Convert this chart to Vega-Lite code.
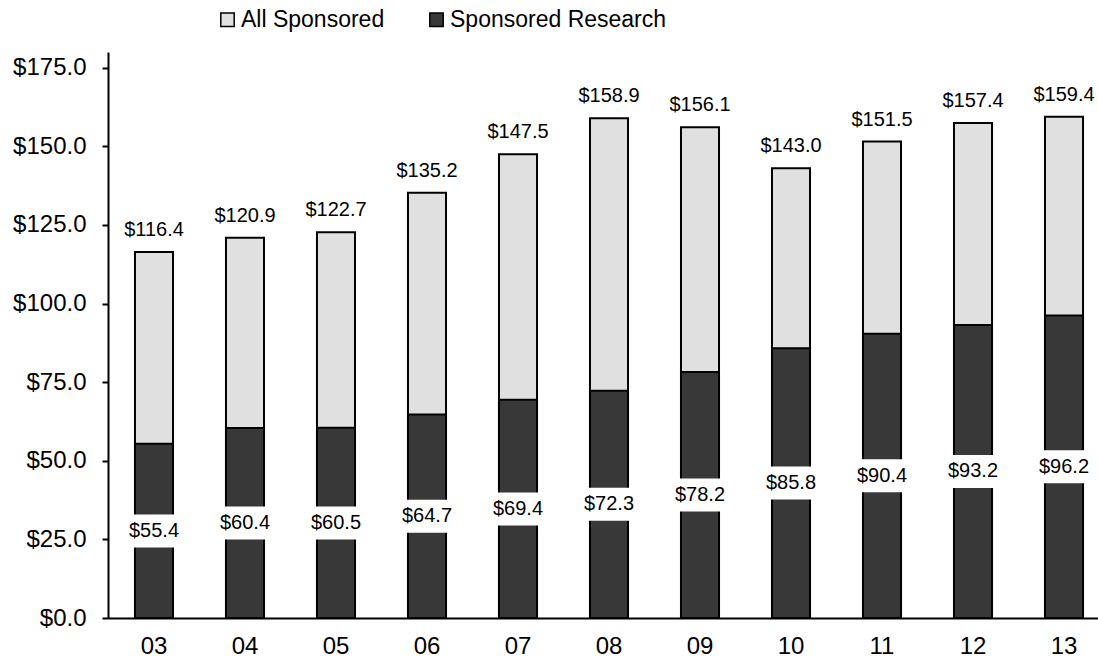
{
  "$schema": "https://vega.github.io/schema/vega-lite/v6.json",
  "width": 990,
  "height": 566,
  "autosize": {"type": "none"},
  "padding": {"left": 108, "top": 52, "right": 0, "bottom": 44},
  "background": "white",
  "config": {
    "font": "Liberation Sans",
    "view": {"stroke": null},
    "axis": {"labelColor": "black", "domainColor": "black", "tickColor": "black", "grid": false, "title": null}
  },
  "data": {
    "values": [
      {"year": "03", "total": 116.4, "research": 55.4},
      {"year": "04", "total": 120.9, "research": 60.4},
      {"year": "05", "total": 122.7, "research": 60.5},
      {"year": "06", "total": 135.2, "research": 64.7},
      {"year": "07", "total": 147.5, "research": 69.4},
      {"year": "08", "total": 158.9, "research": 72.3},
      {"year": "09", "total": 156.1, "research": 78.2},
      {"year": "10", "total": 143.0, "research": 85.8},
      {"year": "11", "total": 151.5, "research": 90.4},
      {"year": "12", "total": 157.4, "research": 93.2},
      {"year": "13", "total": 159.4, "research": 96.2}
    ]
  },
  "encoding": {
    "x": {
      "field": "year",
      "type": "ordinal",
      "scale": {"paddingInner": 0.582, "paddingOuter": 0.2305, "align": 0.643},
      "axis": {"labelAngle": 0, "tickSize": 0, "labelPadding": 16, "labelFontSize": 24, "domainWidth": 2}
    }
  },
  "layer": [
    {
      "mark": {"type": "bar", "stroke": "black", "strokeWidth": 2, "opacity": 1},
      "encoding": {
        "y": {
          "field": "total", "type": "quantitative",
          "scale": {"domain": [0, 180], "nice": false},
          "axis": {"values": [0, 25, 50, 75, 100, 125, 150, 175], "format": "$.1f", "labelFontSize": 24, "labelPadding": 16, "tickSize": 6, "tickWidth": 2, "domainWidth": 2}
        },
        "color": {
          "datum": "All Sponsored",
          "scale": {"domain": ["All Sponsored", "Sponsored Research"], "range": ["#e0e0e0", "#383838"]},
          "legend": {
            "title": null, "orient": "none", "legendX": 108, "legendY": -44, "direction": "horizontal",
            "symbolType": "square", "symbolSize": 180, "symbolStrokeColor": "black", "symbolStrokeWidth": 1.5,
            "labelFontSize": 23, "labelOffset": 2, "labelLimit": 400, "columnPadding": 40, "padding": 0, "labelColor": "black"
          }
        }
      }
    },
    {
      "mark": {"type": "bar", "stroke": "black", "strokeWidth": 2, "opacity": 1},
      "encoding": {
        "y": {"field": "research", "type": "quantitative", "scale": {"domain": [0, 180], "nice": false}, "axis": null},
        "color": {"datum": "Sponsored Research"}
      }
    },
    {
      "mark": {"type": "text", "dy": -16, "baseline": "alphabetic", "fontSize": 20, "color": "black"},
      "encoding": {
        "y": {"field": "total", "type": "quantitative", "scale": {"domain": [0, 180], "nice": false}, "axis": null},
        "text": {"field": "total", "type": "quantitative", "format": "$.1f"}
      }
    },
    {
      "mark": {"type": "tick", "color": "white", "thickness": 33, "size": 46, "opacity": 1},
      "encoding": {
        "y": {"field": "research", "type": "quantitative", "scale": {"domain": [0, 360], "nice": false}, "axis": null}
      }
    },
    {
      "mark": {"type": "text", "baseline": "middle", "fontSize": 20, "color": "black"},
      "encoding": {
        "y": {"field": "research", "type": "quantitative", "scale": {"domain": [0, 360], "nice": false}, "axis": null},
        "text": {"field": "research", "type": "quantitative", "format": "$.1f"}
      }
    }
  ],
  "resolve": {"scale": {"y": "independent"}}
}
